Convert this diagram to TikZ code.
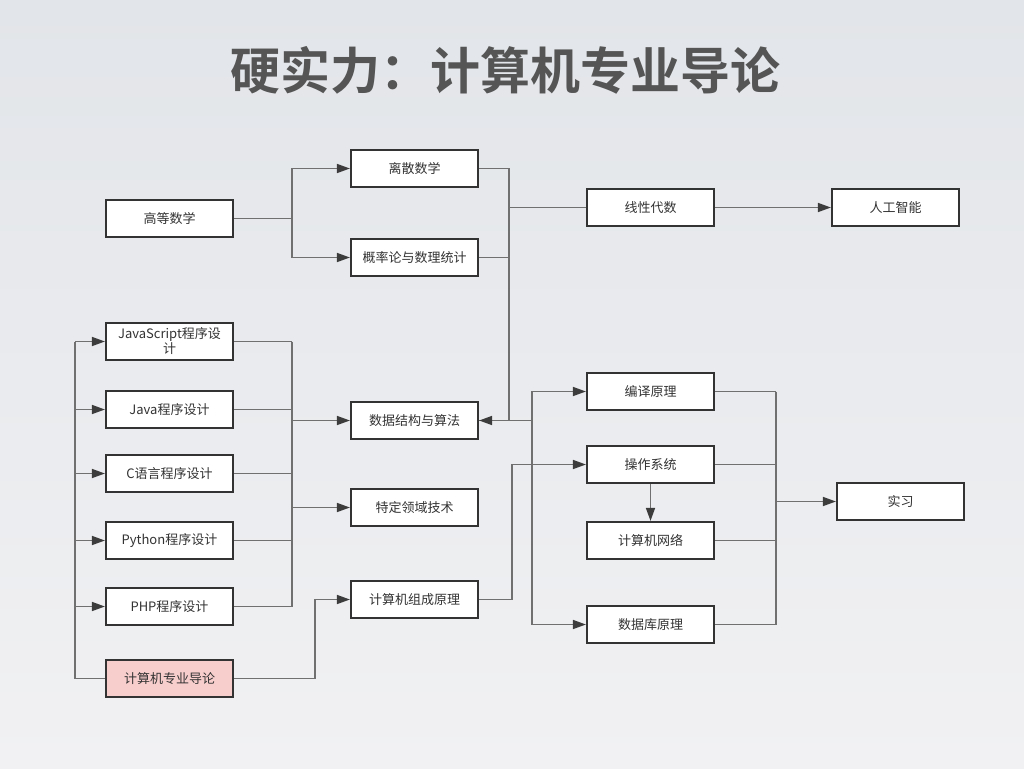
\documentclass[tikz,border=0pt]{standalone}
\usepackage{fontspec}
\setmainfont{Noto Sans CJK SC}[BoldFont={Noto Sans CJK SC Bold}]
\usetikzlibrary{arrows.meta}
\definecolor{bgtop}{HTML}{E2E5E9}
\definecolor{bgbot}{HTML}{F1F1F3}
\definecolor{boxc}{HTML}{333333}
\definecolor{linec}{HTML}{707070}
\definecolor{tipc}{HTML}{3C3C3C}
\definecolor{titlec}{HTML}{555555}
\definecolor{pinkc}{HTML}{F8CECC}

\begin{document}
\begin{tikzpicture}[x=1pt,y=-1pt,
    box/.style={draw=boxc, line width=2.2pt, fill=white, text=boxc,
        minimum width=127pt, minimum height=37pt, inner sep=1pt,
        align=center, font=\fontsize{13}{15}\selectfont},
    line/.style={draw=linec, line width=1.6pt},
    arr/.style={line, -{Triangle[length=13pt,width=9pt,color=tipc]}}]
    \useasboundingbox (0,0) rectangle (1024,768);
    \fill[top color=bgtop, bottom color=bgbot] (0,0) rectangle (1024,768);
    \node[font=\fontsize{50}{56}\selectfont\bfseries, text=titlec] (title) at (505,70) {硬实力：计算机专业导论};

    % math
    \node[box] (gdsx) at (169.5,218.5) {高等数学};
    \node[box] (lisan) at (414.5,168.5) {离散数学};
    \node[box] (gailv) at (414.5,257.5) {概率论与数理统计};
    \node[box] (xxds) at (650.5,207.5) {线性代数};
    \node[box] (rgzn) at (895.5,207.5) {人工智能};

    % programming
    \node[box] (js) at (169.5,341.5) {JavaScript程序设\\计};
    \node[box] (java) at (169.5,409.5) {Java程序设计};
    \node[box] (c) at (169.5,473.5) {C语言程序设计};
    \node[box] (py) at (169.5,540.5) {Python程序设计};
    \node[box] (php) at (169.5,606.5) {PHP程序设计};
    \node[box, fill=pinkc] (jsdl) at (169.5,678.5) {计算机专业导论};

    \node[box] (sjjg) at (414.5,420.5) {数据结构与算法};
    \node[box] (tdly) at (414.5,507.5) {特定领域技术};
    \node[box] (zcyl) at (414.5,599.5) {计算机组成原理};

    \node[box] (byyl) at (650.5,391.5) {编译原理};
    \node[box] (czxt) at (650.5,464.5) {操作系统};
    \node[box] (jswl) at (650.5,540.5) {计算机网络};
    \node[box] (sjk) at (650.5,624.5) {数据库原理};
    \node[box] (sx) at (900.5,501.5) {实习};

    \coordinate (busI) at (75,0);
    \coordinate (busL) at (292,0);
    \coordinate (busM) at (509,0);
    \coordinate (busN) at (532,0);
    \coordinate (busR) at (776,0);

    % math part
    \draw[arr] (gdsx.east) -- (busL |- gdsx.east) |- (lisan.west);
    \draw[arr] (gdsx.east) -- (busL |- gdsx.east) |- (gailv.west);
    \draw[line] (lisan.east) -| (busM |- sjjg.east);
    \draw[line] (gailv.east) -- (busM |- gailv.east);
    \draw[line] (busM |- xxds.west) -- (xxds.west);
    \draw[arr] (xxds.east) -- (rgzn.west);

    % out of sjjg
    \draw[line] (sjjg.east) -- (busN |- sjjg.east);
    \draw[arr] (busN |- sjjg.east) |- (byyl.west);
    \draw[arr] (busN |- sjjg.east) |- (sjk.west);
    \draw[arr] (busM |- sjjg.east) -- (sjjg.east);

    % programming part
    \foreach \n in {js,java,c,py,php}{
        \draw[line] (\n.east) -- (busL |- \n.east);
        \draw[arr] (busI |- \n.west) -- (\n.west);
    }
    \draw[line] (busL |- js.east) -- (busL |- php.east);
    \draw[line] (jsdl.west) -| (busI |- js.west);
    \draw[arr] (busL |- sjjg.west) -- (sjjg.west);
    \draw[arr] (busL |- tdly.west) -- (tdly.west);

    \draw[arr] (jsdl.east) -- ++(81,0) |- (zcyl.west);
    \draw[arr] (zcyl.east) -- ++(33,0) |- (czxt.west);
    \draw[arr] (czxt.south) -- (jswl.north);

    % to internship
    \foreach \n in {byyl,czxt,jswl,sjk}
        \draw[line] (\n.east) -- (busR |- \n.east);
    \draw[line] (busR |- byyl.east) -- (busR |- sjk.east);
    \draw[arr] (busR |- sx.west) -- (sx.west);
\end{tikzpicture}
\end{document}
